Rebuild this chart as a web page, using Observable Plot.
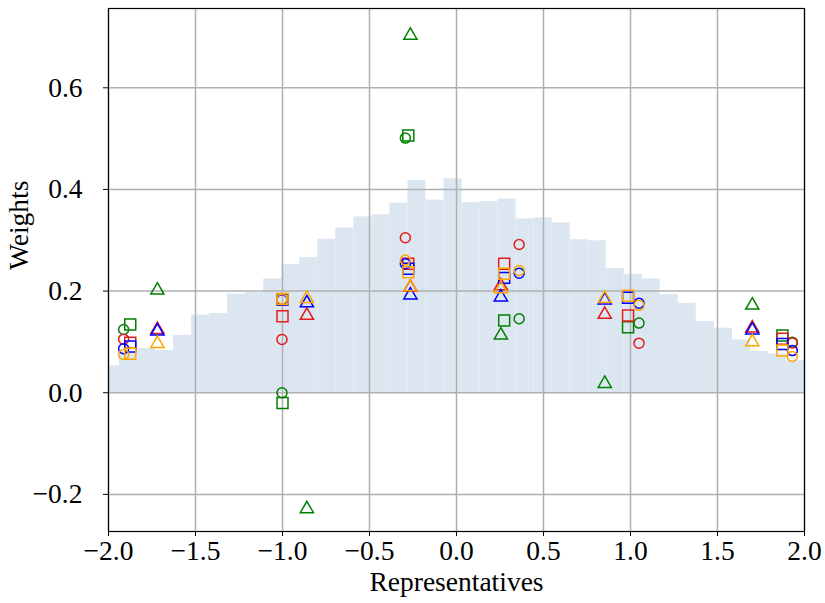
<!DOCTYPE html>
<html>
<head>
<meta charset="utf-8">
<script src="https://cdn.jsdelivr.net/npm/d3@7"></script>
<script src="https://cdn.jsdelivr.net/npm/@observablehq/plot@0.6"></script>
<style>
  body { margin: 0; background: #ffffff; }
</style>
</head>
<body>
<div id="chart"></div>
<script>
// Histogram of the representative density (bin edges and bar heights)
const binEdges = [-2.040, -1.937, -1.833, -1.730, -1.626, -1.522, -1.419, -1.315, -1.212, -1.108,
                  -1.004, -0.901, -0.797, -0.694, -0.590, -0.486, -0.383, -0.279, -0.176, -0.072,
                   0.032,  0.135,  0.239,  0.342,  0.446,  0.550,  0.653,  0.757,  0.860,  0.964,
                   1.068,  1.171,  1.275,  1.378,  1.482,  1.586,  1.689,  1.793,  1.896,  2.000];
const binHeights = [0.053, 0.079, 0.087, 0.083, 0.113, 0.153, 0.156, 0.194, 0.197, 0.224,
                    0.252, 0.266, 0.302, 0.324, 0.346, 0.350, 0.373, 0.418, 0.379, 0.421,
                    0.374, 0.376, 0.381, 0.342, 0.344, 0.334, 0.301, 0.299, 0.244, 0.233,
                    0.224, 0.193, 0.176, 0.140, 0.127, 0.104, 0.081, 0.076, 0.063];

// Representative positions, one set per marker shape
const circleX   = [-1.913, -1.003, -0.294, 0.360, 1.049, 1.930];
const squareX   = [-1.875, -1.000, -0.277, 0.274, 0.986, 1.873];
const triangleX = [-1.719, -0.860, -0.265, 0.255, 0.852, 1.700];

// Method colours (draw order: later ones on top)
const methodColors = ["#008000", "#e41a1c", "#0000ff", "#ffa500"];

// Weights per method (rows follow methodColors), per representative
const circleW = [
  [0.1245, 0.000, 0.501, 0.1455, 0.137, 0.0995],
  [0.1054, 0.105, 0.305, 0.2917, 0.0975, 0.098],
  [0.0865, 0.183, 0.254, 0.235, 0.176, 0.083],
  [0.0753, 0.1845, 0.261, 0.2405, 0.172, 0.0714]
];
const squareW = [
  [0.1343, -0.020, 0.506, 0.142, 0.129, 0.1127],
  [0.0983, 0.1506, 0.254, 0.2537, 0.152, 0.106],
  [0.091, 0.183, 0.244, 0.226, 0.187, 0.096],
  [0.0767, 0.1845, 0.237, 0.234, 0.191, 0.083]
];
const triangleW = [
  [0.2045, -0.2256, 0.706, 0.116, 0.021, 0.175],
  [0.127, 0.155, 0.210, 0.213, 0.157, 0.130],
  [0.124, 0.1795, 0.195, 0.191, 0.185, 0.126],
  [0.0995, 0.188, 0.211, 0.207, 0.188, 0.103]
];

const xTicks = [-2.0, -1.5, -1.0, -0.5, 0.0, 0.5, 1.0, 1.5, 2.0];
const yTicks = [-0.2, 0.0, 0.2, 0.4, 0.6];

const bins = binHeights.map((h, i) => ({x1: binEdges[i], x2: binEdges[i + 1], h}));
const fmt = d => d.toFixed(1).replace("-", "\u2212");
const font = "'Liberation Serif', 'Times New Roman', serif";
const fs = 27.5;

const shapes = [
  {symbol: "circle",   xs: circleX,   ws: circleW,   r: 5.0,  dy: 0},
  {symbol: "square",   xs: squareX,   ws: squareW,   r: 6.2,  dy: 0},
  {symbol: "triangle", xs: triangleX, ws: triangleW, r: 4.9,  dy: 1.5}
];

const dotMarks = [];
methodColors.forEach((color, m) => {
  shapes.forEach(s => {
    const pts = s.xs.map((x, i) => ({x, y: s.ws[m][i]}));
    dotMarks.push(Plot.dot(pts, {
      x: "x", y: "y", symbol: s.symbol, r: s.r, dy: s.dy,
      stroke: color, fill: "none", strokeWidth: 1.5
    }));
  });
});

const chart = Plot.plot({
  width: 825,
  height: 603,
  marginLeft: 108,
  marginRight: 21,
  marginTop: 8,
  marginBottom: 72,
  style: {fontFamily: font, fontSize: fs + "px", background: "#ffffff", color: "#000000"},
  x: {domain: [-2, 2]},
  y: {domain: [-0.273, 0.756]},
  marks: [
    Plot.rectY(bins, {x1: "x1", x2: "x2", y1: 0, y2: "h", fill: "#dbe6f1", clip: true}),
    Plot.gridX(xTicks, {stroke: "#b0b0b0", strokeOpacity: 1, strokeWidth: 1.5}),
    Plot.gridY(yTicks, {stroke: "#b0b0b0", strokeOpacity: 1, strokeWidth: 1.5}),
    Plot.axisX(xTicks, {tickSize: 5, tickPadding: 4, tickFormat: fmt, label: null, fontSize: fs, fontFamily: font}),
    Plot.axisY(yTicks, {tickSize: 5, tickPadding: 21, tickFormat: fmt, label: null, fontSize: fs, fontFamily: font}),
    Plot.frame({stroke: "#000000", strokeWidth: 1.2}),
    ...dotMarks,
    Plot.text(["Representatives"], {frameAnchor: "bottom", dy: 59, text: d => d, fontSize: fs, fontFamily: font}),
    Plot.text(["Weights"], {frameAnchor: "left", dx: -89, rotate: -90, text: d => d, fontSize: fs, fontFamily: font})
  ]
});

document.getElementById("chart").appendChild(chart);
</script>
</body>
</html>
